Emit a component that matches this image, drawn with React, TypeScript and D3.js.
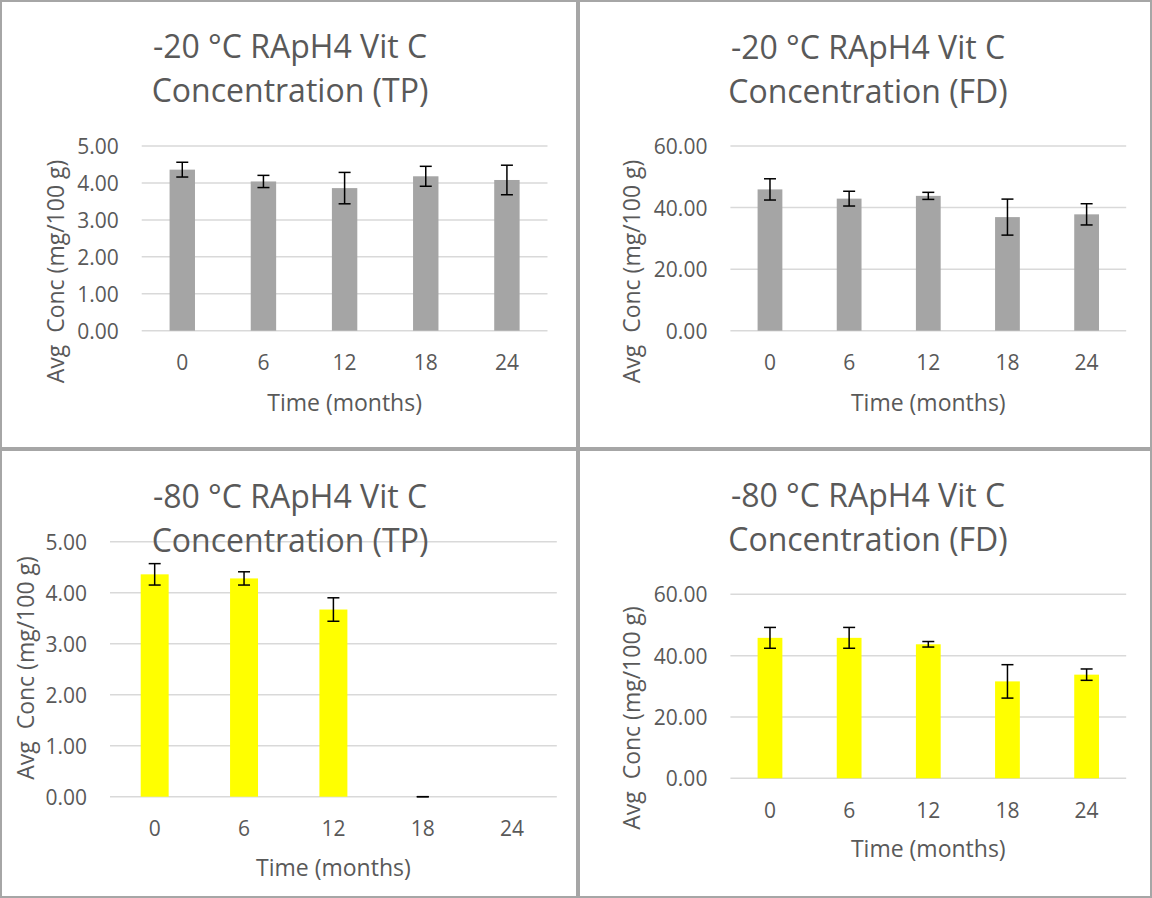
import React from 'react';
import * as d3 from 'd3';

const months = ['0', '6', '12', '18', '24'];

const tp20Mean = [4.36, 4.04, 3.86, 4.18, 4.08];
const tp20Err = [0.2, 0.165, 0.425, 0.27, 0.4];

const fd20Mean = [45.9, 42.9, 43.8, 36.9, 37.8];
const fd20Err = [3.45, 2.4, 1.15, 5.85, 3.45];

const tp80Mean = [4.36, 4.28, 3.67, 0, null];
const tp80Err = [0.21, 0.13, 0.23, 0, null];

const fd80Mean = [45.8, 45.8, 43.7, 31.6, 33.8];
const fd80Err = [3.4, 3.4, 0.9, 5.45, 1.85];

const tpTicks = [0, 1, 2, 3, 4, 5];
const fdTicks = [0, 20, 40, 60];

const TEXT = '#595959';
const FONT = "'Open Sans', sans-serif";

type PanelProps = {
  box: [number, number, number, number];
  title: [string, string];
  titleX: number;
  titleY: number;
  mean: (number | null)[];
  err: (number | null)[];
  ticks: number[];
  yMax: number;
  plot: { left: number; right: number; top: number; bottom: number };
  xLabelY: number;
  xTitleY: number;
  yTitle: [number, number];
  color: string;
};

const Panel = ({ box, title, titleX, titleY, mean, err, ticks, yMax, plot, xLabelY, xTitleY, yTitle, color }: PanelProps) => {
  const x = d3
    .scaleBand<string>()
    .domain(months)
    .range([plot.left, plot.right])
    .paddingInner(0.687)
    .paddingOuter(0.3435);
  const y = d3.scaleLinear().domain([0, yMax]).range([plot.bottom, plot.top]);
  const bw = x.bandwidth();
  const cap = 6;

  return (
    <g>
      <rect
        x={box[0]}
        y={box[1]}
        width={box[2] - box[0]}
        height={box[3] - box[1]}
        fill='#fff'
        stroke='#a6a6a6'
        strokeWidth={2}
      />
      {ticks.map((t) => (
        <g key={t}>
          <line x1={plot.left} x2={plot.right} y1={y(t)} y2={y(t)} stroke='#d9d9d9' strokeWidth={1.5} />
          <text
            x={plot.left - 23}
            y={y(t)}
            textAnchor='end'
            dominantBaseline='central'
            fontSize={21}
            fill={TEXT}
          >
            {t.toFixed(2)}
          </text>
        </g>
      ))}
      {months.map((m, i) => {
        const v = mean[i];
        if (v === null) return null;
        return (
          <rect key={'b' + m} x={x(m)} y={y(v)} width={bw} height={y(0) - y(v)} fill={color} />
        );
      })}
      {months.map((m, i) => {
        const v = mean[i];
        const e = err[i];
        if (v === null || e === null) return null;
        const cx = (x(m) as number) + bw / 2;
        const y1 = y(v + e);
        const y2 = y(v - e);
        return (
          <g key={'e' + m} stroke='#000' strokeWidth={1.5}>
            <line x1={cx} x2={cx} y1={y1} y2={y2} />
            <line x1={cx - cap} x2={cx + cap} y1={y1} y2={y1} />
            <line x1={cx - cap} x2={cx + cap} y1={y2} y2={y2} />
          </g>
        );
      })}
      {months.map((m) => (
        <text
          key={'l' + m}
          x={(x(m) as number) + bw / 2}
          y={xLabelY}
          textAnchor='middle'
          dominantBaseline='central'
          fontSize={21}
          fill={TEXT}
        >
          {m}
        </text>
      ))}
      <text
        x={(plot.left + plot.right) / 2}
        y={xTitleY}
        textAnchor='middle'
        dominantBaseline='central'
        fontSize={23}
        fill={TEXT}
      >
        Time (months)
      </text>
      <text
        transform={`translate(${yTitle[0]},${yTitle[1]}) rotate(-90)`}
        textAnchor='middle'
        dominantBaseline='central'
        fontSize={23}
        fill={TEXT}
        style={{ whiteSpace: 'pre' }}
      >
        {'Avg  Conc (mg/100 g)'}
      </text>
      <text x={titleX} y={titleY} textAnchor='middle' fontSize={32} fill={TEXT}>
        {title[0]}
      </text>
      <text x={titleX} y={titleY + 44} textAnchor='middle' fontSize={32} fill={TEXT}>
        {title[1]}
      </text>
    </g>
  );
};

const App = () => {
  return (
    <svg
      width={1152}
      height={898}
      style={{ position: 'absolute', left: 0, top: 0, background: '#fff', fontFamily: FONT }}
    >
      <Panel
        box={[1, 1, 577, 448]}
        title={['-20 °C RApH4 Vit C', 'Concentration (TP)']}
        titleX={290}
        titleY={58}
        mean={tp20Mean}
        err={tp20Err}
        ticks={tpTicks}
        yMax={5}
        plot={{ left: 141.7, right: 547.5, top: 146, bottom: 330.7 }}
        xLabelY={361.7}
        xTitleY={401.7}
        yTitle={[55, 271.5]}
        color='#a5a5a5'
      />
      <Panel
        box={[579, 1, 1151, 448]}
        title={['-20 °C RApH4 Vit C', 'Concentration (FD)']}
        titleX={868}
        titleY={59}
        mean={fd20Mean}
        err={fd20Err}
        ticks={fdTicks}
        yMax={60}
        plot={{ left: 730.4, right: 1126.2, top: 146, bottom: 330.7 }}
        xLabelY={361.7}
        xTitleY={401.7}
        yTitle={[631, 271.5]}
        color='#a5a5a5'
      />
      <Panel
        box={[1, 450, 577, 897]}
        title={['-80 °C RApH4 Vit C', 'Concentration (TP)']}
        titleX={290}
        titleY={508}
        mean={tp80Mean}
        err={tp80Err}
        ticks={tpTicks}
        yMax={5}
        plot={{ left: 110, right: 556.8, top: 541.7, bottom: 796.7 }}
        xLabelY={828}
        xTitleY={866.7}
        yTitle={[25, 668]}
        color='#ffff00'
      />
      <Panel
        box={[579, 450, 1151, 897]}
        title={['-80 °C RApH4 Vit C', 'Concentration (FD)']}
        titleX={868}
        titleY={507}
        mean={fd80Mean}
        err={fd80Err}
        ticks={fdTicks}
        yMax={60}
        plot={{ left: 730.4, right: 1126.2, top: 594.3, bottom: 778.3 }}
        xLabelY={810}
        xTitleY={848}
        yTitle={[631, 718]}
        color='#ffff00'
      />
    </svg>
  );
};

export default App;
